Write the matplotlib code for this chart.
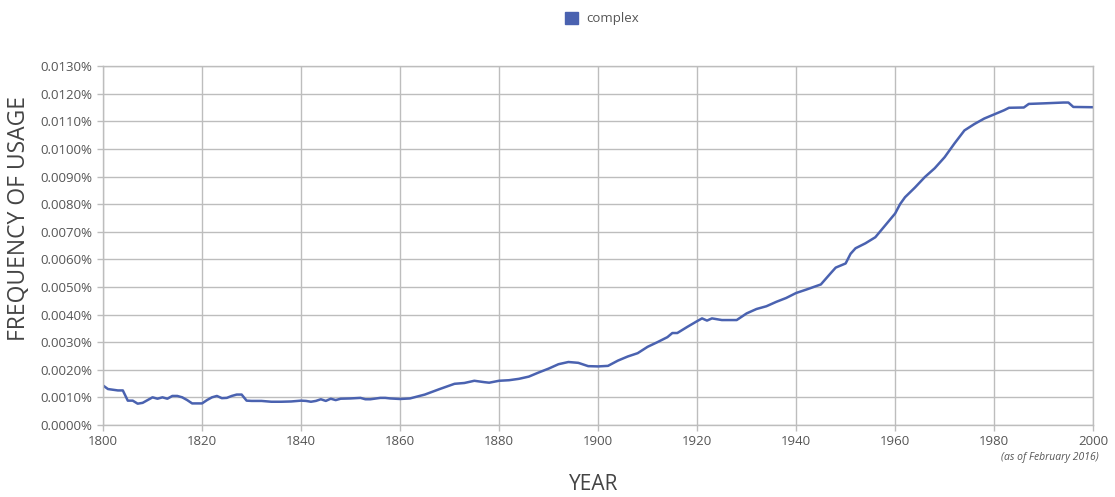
import matplotlib.pyplot as plt
import matplotlib.ticker as mticker
from matplotlib.patches import Patch

plt.rcParams['font.family'] = ['Open Sans', 'DejaVu Sans']

# frequency of "complex" (percent)
years = [1800, 1801, 1803, 1804, 1805, 1806, 1807, 1808, 1809, 1810, 1811, 1812, 1813,
         1814, 1815, 1816, 1817, 1818, 1819, 1820, 1821, 1822, 1823, 1824, 1825, 1826,
         1827, 1828, 1829, 1830, 1832, 1834, 1836, 1838, 1840, 1841, 1842, 1843, 1844,
         1845, 1846, 1847, 1848, 1850, 1852, 1853, 1854, 1856, 1857, 1858, 1860, 1862,
         1865, 1868, 1871, 1873, 1875, 1877, 1878, 1880, 1882, 1884, 1886, 1888, 1890,
         1892, 1894, 1896, 1898, 1900, 1902, 1904, 1906, 1908, 1910, 1912, 1914, 1915,
         1916, 1918, 1920, 1921, 1922, 1923, 1925, 1928, 1930, 1932, 1934, 1936, 1938,
         1940, 1942, 1945, 1947, 1948, 1950, 1951, 1952, 1954, 1956, 1958, 1960, 1961,
         1962, 1964, 1966, 1968, 1970, 1972, 1974, 1976, 1978, 1980, 1982, 1983, 1986,
         1987, 1990, 1994, 1995, 1996, 2000]
freq = [0.00143, 0.0013, 0.00125, 0.00125, 0.00088, 0.00088, 0.00077, 0.0008, 0.0009,
        0.001, 0.00095, 0.001, 0.00095, 0.00105, 0.00105, 0.001, 0.0009, 0.00078,
        0.00078, 0.00078, 0.0009, 0.001, 0.00105, 0.00097, 0.00098, 0.00105, 0.0011,
        0.0011, 0.00088, 0.00087, 0.00087, 0.00084, 0.00084, 0.00085, 0.00088, 0.00087,
        0.00084, 0.00087, 0.00093, 0.00087, 0.00095, 0.0009, 0.00095, 0.00096, 0.00098,
        0.00093, 0.00093, 0.00098, 0.00098, 0.00096, 0.00094, 0.00096, 0.0011, 0.0013,
        0.00149, 0.00152, 0.0016, 0.00155, 0.00153, 0.0016, 0.00162, 0.00167, 0.00175,
        0.0019, 0.00204, 0.0022, 0.00228, 0.00225, 0.00213, 0.00212, 0.00214, 0.00233,
        0.00248, 0.0026, 0.00283, 0.003, 0.00318, 0.00333, 0.00333, 0.00355, 0.00376,
        0.00386, 0.00378, 0.00386, 0.0038, 0.0038, 0.00404, 0.0042, 0.0043, 0.00446,
        0.0046, 0.00478, 0.0049, 0.00509, 0.0055, 0.0057, 0.00585, 0.0062, 0.0064,
        0.00658, 0.0068, 0.00723, 0.00766, 0.008, 0.00825, 0.0086, 0.00898, 0.0093,
        0.0097, 0.0102, 0.01067, 0.0109, 0.0111, 0.01125, 0.0114, 0.01149, 0.0115,
        0.01163, 0.01165, 0.01168, 0.01168, 0.01152, 0.01151]

yticks = [i * 0.001 for i in range(14)]
xticks = [1800, 1820, 1840, 1860, 1880, 1900, 1920, 1940, 1960, 1980, 2000]

line_color = '#4a62b0'
grid_color = '#bdbdbd'
text_color = '#555555'

fig = plt.figure(figsize=(11.15, 4.97), dpi=100)
ax = fig.add_axes([0.0924, 0.145, 0.888, 0.722])

ax.plot(years, freq, color=line_color, lw=1.8)

ax.set_xlim(1800, 2000)
ax.set_ylim(0, 0.013)
ax.set_xticks(xticks)
ax.set_yticks(yticks)
ax.yaxis.set_major_formatter(mticker.FuncFormatter(lambda v, p: '%.4f%%' % v))
ax.grid(True, color=grid_color, lw=1)
ax.set_axisbelow(True)
for s in ax.spines.values():
    s.set_color(grid_color)
    s.set_linewidth(1)
ax.tick_params(axis='both', colors=grid_color, labelcolor=text_color, labelsize=9.5,
               length=4, width=1)

# axis titles placed like the original
fig.text(0.017, 0.56, 'FREQUENCY OF USAGE', rotation=90, ha='center', va='center',
         fontsize=16.5, color='#444444')
fig.text(0.532, 0.025, 'YEAR', ha='center', va='center', fontsize=15, color='#444444')

ax.text(1.006, -0.075, '(as of February 2016)', transform=ax.transAxes, ha='right',
        va='top', fontsize=7.5, style='italic', color=text_color)

handles = [Patch(facecolor=line_color, edgecolor=line_color, label='complex')]
fig.legend(handles=handles, loc='upper center', bbox_to_anchor=(0.54, 1.0), frameon=False,
           fontsize=9.5, labelcolor=text_color, handlelength=1.0, handleheight=1.0,
           handletextpad=0.6)

fig.savefig('out.png', dpi=100, facecolor='white')
